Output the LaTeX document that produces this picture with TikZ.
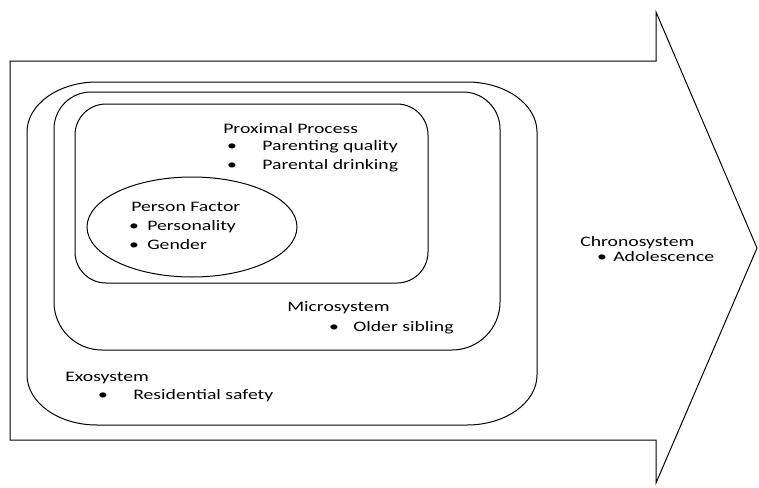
\documentclass[tikz,border=0pt]{standalone}
\usepackage{fontspec}
\setmainfont{Carlito}
\usetikzlibrary{shapes.geometric}
\tikzset{
    frame/.style={
           draw=black,
           line width=1pt,
           },
    txt/.style={
           anchor=base west,
           inner sep=0pt,
           font=\fontsize{14.5}{17}\selectfont,
           xscale=1.36,
           transform shape,
           },
    dotmark/.style={
           txt,
           anchor=base,
           },
}
\begin{document}
\begin{tikzpicture}
[
x=1pt,y=-1pt
]
 \useasboundingbox (0,0) rectangle (759,487);

 % Chronosystem arrow
 \draw[frame] (10,61) -- (656,61) -- (656,12) -- (757,248)
   -- (656,483) -- (656,440) -- (10,440) -- cycle;

 % Exosystem box
 \draw[frame] (97,82) -- (467,82)
   arc[start angle=-90, end angle=0, x radius=70, y radius=50]
   -- (537,375)
   arc[start angle=0, end angle=90, x radius=70, y radius=50]
   -- (97,425)
   arc[start angle=90, end angle=180, x radius=70, y radius=50]
   -- (27,132)
   arc[start angle=180, end angle=270, x radius=70, y radius=50]
   -- cycle;

 % Microsystem box
 \draw[frame] (54,221)
   [rounded corners=37pt] |- (277,92) -| (500,221)
   [rounded corners=48pt] |- (277,350) -| (54,221) -- cycle;

 % Proximal process box
 \draw[frame, rounded corners=31pt] (75,104) rectangle (428,283);

 % Person factor
 \node[frame, ellipse,
 minimum width=210pt,
 minimum height=100pt,
 inner sep=0pt] (PERSON) at (192,227) {};

 % texts
 \node[txt] (PROX) at (223,133) {Proximal Process};
 \node[dotmark] (PROXA) at (232,150) {•};
 \node[txt] (QUALITY) at (262,150) {Parenting quality};
 \node[dotmark] (PROXB) at (232,169) {•};
 \node[txt] (DRINKING) at (262,169) {Parental drinking};

 \node[txt] (PERSONT) at (131,211) {Person Factor};
 \node[dotmark] (PERSONA) at (134,230) {•};
 \node[txt] (PERSONALITY) at (147,230) {Personality};
 \node[dotmark] (PERSONB) at (134,249) {•};
 \node[txt] (GENDER) at (147,249) {Gender};

 \node[txt] (MICRO) at (287,311) {Microsystem};
 \node[dotmark] (MICROA) at (334,331) {•};
 \node[txt] (SIBLING) at (353,331) {Older sibling};

 \node[txt] (EXO) at (65,381) {Exosystem};
 \node[dotmark] (EXOA) at (103,399) {•};
 \node[txt] (SAFETY) at (133,399) {Residential safety};

 \node[txt] (CHRONO) at (580,246) {Chronosystem};
 \node[dotmark] (CHRONOA) at (602,261) {•};
 \node[txt] (ADOLESCENCE) at (613,261) {Adolescence};

\end{tikzpicture}
\end{document}
